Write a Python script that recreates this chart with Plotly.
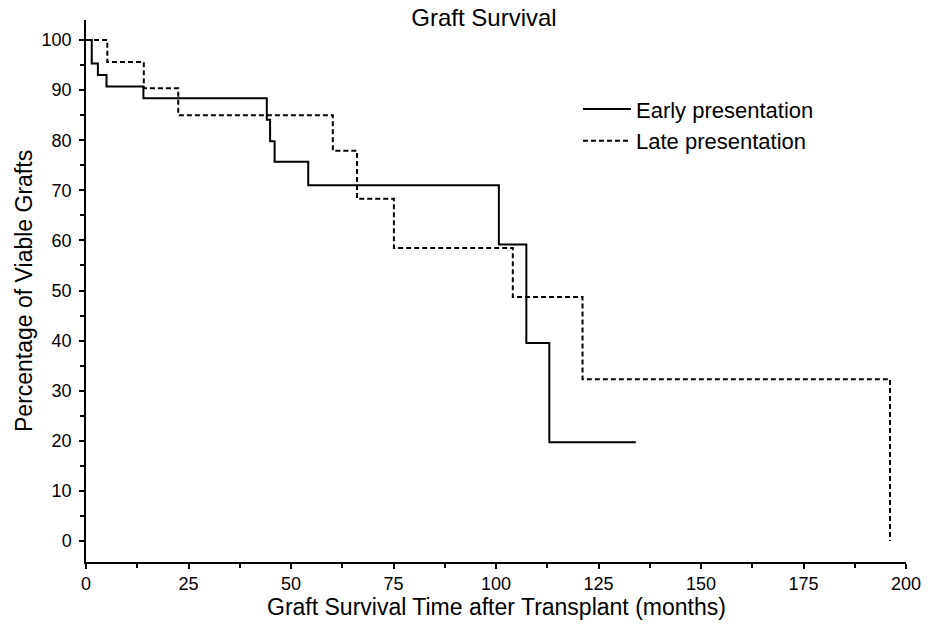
import plotly.graph_objects as go

early_months = [0, 1.4, 2.9, 5.0, 14.0, 44.1, 44.9, 46.0, 54.2, 100.7, 107.4, 113.0, 134.1]
early_pct = [100, 95.3, 93.0, 90.7, 88.4, 84.1, 79.8, 75.7, 71.0, 59.2, 39.5, 19.7, 19.7]

late_months = [0, 5.2, 14.1, 22.5, 60.2, 66.1, 75.1, 104.1, 121.1, 196.1, 196.1]
late_pct = [100, 95.6, 90.4, 85.0, 77.9, 68.3, 58.5, 48.7, 32.3, 32.3, 0]

x_ticks = [0, 25, 50, 75, 100, 125, 150, 175, 200]
y_ticks = [0, 10, 20, 30, 40, 50, 60, 70, 80, 90, 100]

FONT = "Liberation Sans, Arial, sans-serif"

fig = go.Figure()
fig.add_trace(go.Scatter(x=early_months, y=early_pct, mode="lines", line_shape="hv",
                         name="Early presentation", line=dict(color="black", width=2)))
fig.add_trace(go.Scatter(x=late_months, y=late_pct, mode="lines", line_shape="hv",
                         name="Late presentation",
                         line=dict(color="black", width=2, dash="5px,3px")))

fig.update_layout(
    width=936, height=627,
    margin=dict(l=86, r=30, t=20, b=65, autoexpand=False),
    paper_bgcolor="white", plot_bgcolor="white",
    font=dict(family=FONT, color="black", size=18),
    title=dict(text="Graft Survival", x=(484 / 936), xanchor="center",
               y=1 - 18 / 627, yanchor="middle", yref="container",
               pad=dict(t=0, b=0, l=0, r=0),
               font=dict(size=24, family=FONT, color="black")),
    legend=dict(x=0.600, y=0.874, xanchor="left", yanchor="top",
                bgcolor="rgba(0,0,0,0)", font=dict(size=22, family=FONT),
                tracegroupgap=0, itemwidth=48),
    showlegend=True,
    annotations=[
        dict(text="Graft Survival Time after Transplant (months)", xref="paper", yref="paper",
             x=(496 - 86) / 820, y=-(607 - 562) / 542, xanchor="center", yanchor="middle",
             showarrow=False, font=dict(size=23, family=FONT, color="black")),
        dict(text="Percentage of Viable Grafts", xref="paper", yref="paper",
             x=-(86 - 24) / 820, y=0.5, xanchor="center", yanchor="middle", textangle=-90,
             showarrow=False, font=dict(size=23, family=FONT, color="black")),
    ],
)
fig.update_xaxes(range=[0, 200], tickvals=x_ticks, ticktext=[str(v) for v in x_ticks],
                 automargin=False,
                 showgrid=False, zeroline=False, showline=True, linecolor="black", linewidth=1.5,
                 ticks="outside", ticklen=5, tickwidth=1.5, tickcolor="black",
                 minor=dict(dtick=12.5, ticks="outside", ticklen=4, tickwidth=1.5, tickcolor="black", showgrid=False),
                 tickfont=dict(size=18, family=FONT))
fig.update_yaxes(range=[-4.2, 104], tickvals=y_ticks, ticktext=[str(v) for v in y_ticks],
                 automargin=False, ticklabelstandoff=4,
                 showgrid=False, zeroline=False, showline=True, linecolor="black", linewidth=1.5,
                 ticks="outside", ticklen=5, tickwidth=1.5, tickcolor="black",
                 minor=dict(dtick=5, ticks="outside", ticklen=4, tickwidth=1.5, tickcolor="black", showgrid=False),
                 tickfont=dict(size=18, family=FONT))

fig.write_html("out.html", config={"displayModeBar": False})

# remove the default page margin so the figure sits at the window's top-left corner
with open("out.html", "r", encoding="utf-8") as f:
    html = f.read()
html = html.replace("<head>", "<head><style>html,body{margin:0;padding:0;overflow:hidden;}</style>", 1)
with open("out.html", "w", encoding="utf-8") as f:
    f.write(html)
